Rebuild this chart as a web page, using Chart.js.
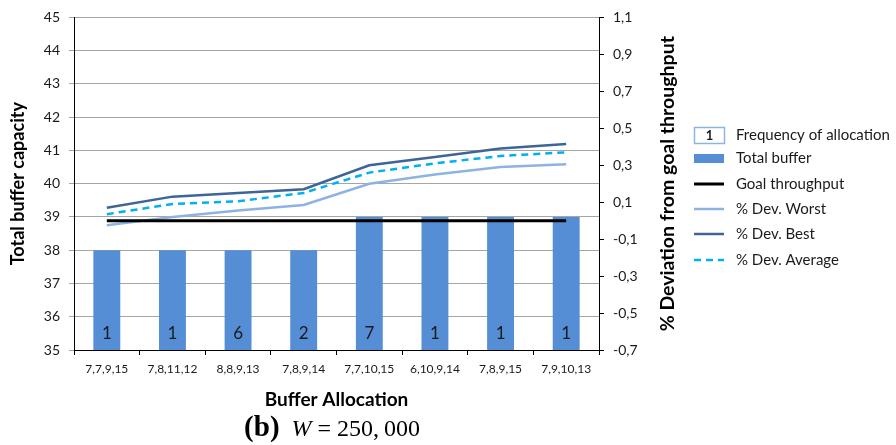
<!DOCTYPE html>
<html>
<head>
<meta charset="utf-8">
<script src="https://cdn.jsdelivr.net/npm/chart.js@4"></script>
<style>
  body { margin: 0; background: #fff; }
  #wrap { position: relative; width: 896px; height: 445px; }
  #caption {
    position: absolute; left: 0; width: 664px; top: 410px;
    text-align: center; font-family: 'Liberation Serif', 'DejaVu Serif', serif;
    font-size: 24px; color: #000; white-space: nowrap;
  }
  #caption b { font-size: 29px; margin-right: 6px; }
</style>
</head>
<body>
<div id="wrap">
  <canvas id="chart" width="896" height="445"></canvas>
  <div id="caption"><b>(b)</b> <i>W</i> = 250,&thinsp;000</div>
</div>
<script>
const allocations = ['7,7,9,15', '7,8,11,12', '8,8,9,13', '7,8,9,14', '7,7,10,15', '6,10,9,14', '7,8,9,15', '7,9,10,13'];
const totalBuffer = [38, 38, 38, 38, 39, 39, 39, 39];
const frequency = [1, 1, 6, 2, 7, 1, 1, 1];
const goalThroughput = [0, 0, 0, 0, 0, 0, 0, 0];
const devWorst = [-0.025, 0.02, 0.055, 0.085, 0.2, 0.25, 0.29, 0.305];
const devBest = [0.07, 0.13, 0.15, 0.17, 0.3, 0.345, 0.39, 0.415];
const devAverage = [0.035, 0.09, 0.105, 0.15, 0.26, 0.31, 0.35, 0.37];
const leftTicks = [35, 36, 37, 38, 39, 40, 41, 42, 43, 44, 45];
const rightTicks = [-0.7, -0.5, -0.3, -0.1, 0.1, 0.3, 0.5, 0.7, 0.9, 1.1];

const FONT = 'Lato, "Open Sans", sans-serif';
const TEXT = '#1a1a1a';

// frequency numbers at the foot of each bar
const barLabels = {
  id: 'barLabels',
  afterDatasetsDraw(chart) {
    const ctx = chart.ctx;
    const meta = chart.getDatasetMeta(0);
    const y = chart.scales.y.getPixelForValue(35.5);
    ctx.save();
    ctx.font = '17px ' + FONT;
    ctx.fillStyle = TEXT;
    ctx.textAlign = 'center';
    ctx.textBaseline = 'middle';
    meta.data.forEach((bar, i) => ctx.fillText(String(frequency[i]), bar.x, y));
    ctx.restore();
  }
};

// right axis title reads bottom to top, legend sits to the right
const extras = {
  id: 'extras',
  afterDraw(chart) {
    const ctx = chart.ctx;
    const area = chart.chartArea;
    ctx.save();
    ctx.translate(668, (area.top + area.bottom) / 2);
    ctx.rotate(-Math.PI / 2);
    ctx.font = 'bold 19.5px ' + FONT;
    ctx.fillStyle = '#000';
    ctx.textAlign = 'center';
    ctx.textBaseline = 'middle';
    ctx.fillText('% Deviation from goal throughput', 0, 0);
    ctx.restore();

    const ds = chart.data.datasets;
    const x0 = 694, w = 30, tx = 736;
    ctx.save();
    ctx.fillStyle = TEXT;
    ctx.textBaseline = 'middle';

    // frequency box
    ctx.strokeStyle = '#8EB4E3';
    ctx.lineWidth = 1.5;
    ctx.strokeRect(x0 + 0.5, 127.5, w, 16);
    ctx.font = 'bold 13px ' + FONT;
    ctx.textAlign = 'center';
    ctx.fillText('1', x0 + w / 2 + 0.5, 136);
    ctx.textAlign = 'left';
    ctx.font = '15px ' + FONT;
    ctx.fillText('Frequency of allocation', tx, 135);

    ctx.fillStyle = ds[0].backgroundColor;
    ctx.fillRect(x0, 154, w, 9);
    ctx.fillStyle = TEXT;
    ctx.fillText(ds[0].label, tx, 158);

    const ys = [184, 209, 234, 260];
    for (let i = 1; i < ds.length; i++) {
      const y = ys[i - 1];
      ctx.beginPath();
      ctx.setLineDash(ds[i].borderDash || []);
      ctx.strokeStyle = ds[i].borderColor;
      ctx.lineWidth = ds[i].borderWidth;
      ctx.moveTo(x0, y);
      ctx.lineTo(x0 + w, y);
      ctx.stroke();
      ctx.setLineDash([]);
      ctx.fillText(ds[i].label, tx, y);
    }
    ctx.restore();
  }
};

const lineStyle = { type: 'line', yAxisID: 'y1', pointRadius: 0, tension: 0, fill: false, order: 1 };

new Chart(document.getElementById('chart').getContext('2d'), {
  type: 'bar',
  data: {
    labels: allocations,
    datasets: [
      {
        label: 'Total buffer',
        data: totalBuffer,
        backgroundColor: '#558ED5',
        yAxisID: 'y',
        categoryPercentage: 0.41,
        barPercentage: 1,
        order: 2,
      },
      { ...lineStyle, label: 'Goal throughput', data: goalThroughput, borderColor: '#000000', borderWidth: 3 },
      { ...lineStyle, label: '% Dev. Worst', data: devWorst, borderColor: '#8DB3E2', borderWidth: 2.5 },
      { ...lineStyle, label: '% Dev. Best', data: devBest, borderColor: '#3D6596', borderWidth: 2.5 },
      { ...lineStyle, label: '% Dev. Average', data: devAverage, borderColor: '#00B0F0', borderWidth: 2.5, borderDash: [7, 5] },
    ],
  },
  options: {
    responsive: false,
    animation: false,
    layout: { padding: { top: 14, right: 215, bottom: 34, left: 0 } },
    plugins: {
      legend: { display: false },
      tooltip: { enabled: false },
    },
    scales: {
      x: {
        offset: true,
        grid: { offset: true, drawOnChartArea: false, tickLength: 5, tickColor: '#000' },
        border: { color: '#000', width: 1 },
        ticks: { font: { size: 12, family: FONT }, color: TEXT, padding: 7, maxRotation: 0 },
        title: { display: true, text: 'Buffer Allocation', font: { size: 19, weight: 'bold', family: FONT }, color: '#000', padding: 0 },
        afterFit: s => { s.height = 61; },
      },
      y: {
        position: 'left',
        min: 35,
        max: 45,
        afterBuildTicks: s => { s.ticks = leftTicks.map(v => ({ value: v })); },
        grid: { color: '#A6A6A6', tickLength: 5, tickColor: '#A6A6A6' },
        border: { color: '#000', width: 1 },
        ticks: { font: { size: 14, family: FONT }, color: TEXT, padding: 9 },
        title: { display: true, text: 'Total buffer capacity', font: { size: 18, weight: 'bold', family: FONT }, color: '#000', padding: { top: 7, bottom: 0 } },
        afterFit: s => { s.width = 74; },
      },
      y1: {
        position: 'right',
        min: -0.7,
        max: 1.1,
        afterBuildTicks: s => { s.ticks = rightTicks.map(v => ({ value: v })); },
        grid: { drawOnChartArea: false, tickLength: 5, tickColor: '#000' },
        border: { color: '#000', width: 1 },
        ticks: {
          font: { size: 14, family: FONT }, color: TEXT, padding: 9,
          callback: v => v.toFixed(1).replace('.', ','),
        },
        afterFit: s => { s.width = 82; },
      },
    },
  },
  plugins: [barLabels, extras],
});
</script>
</body>
</html>
